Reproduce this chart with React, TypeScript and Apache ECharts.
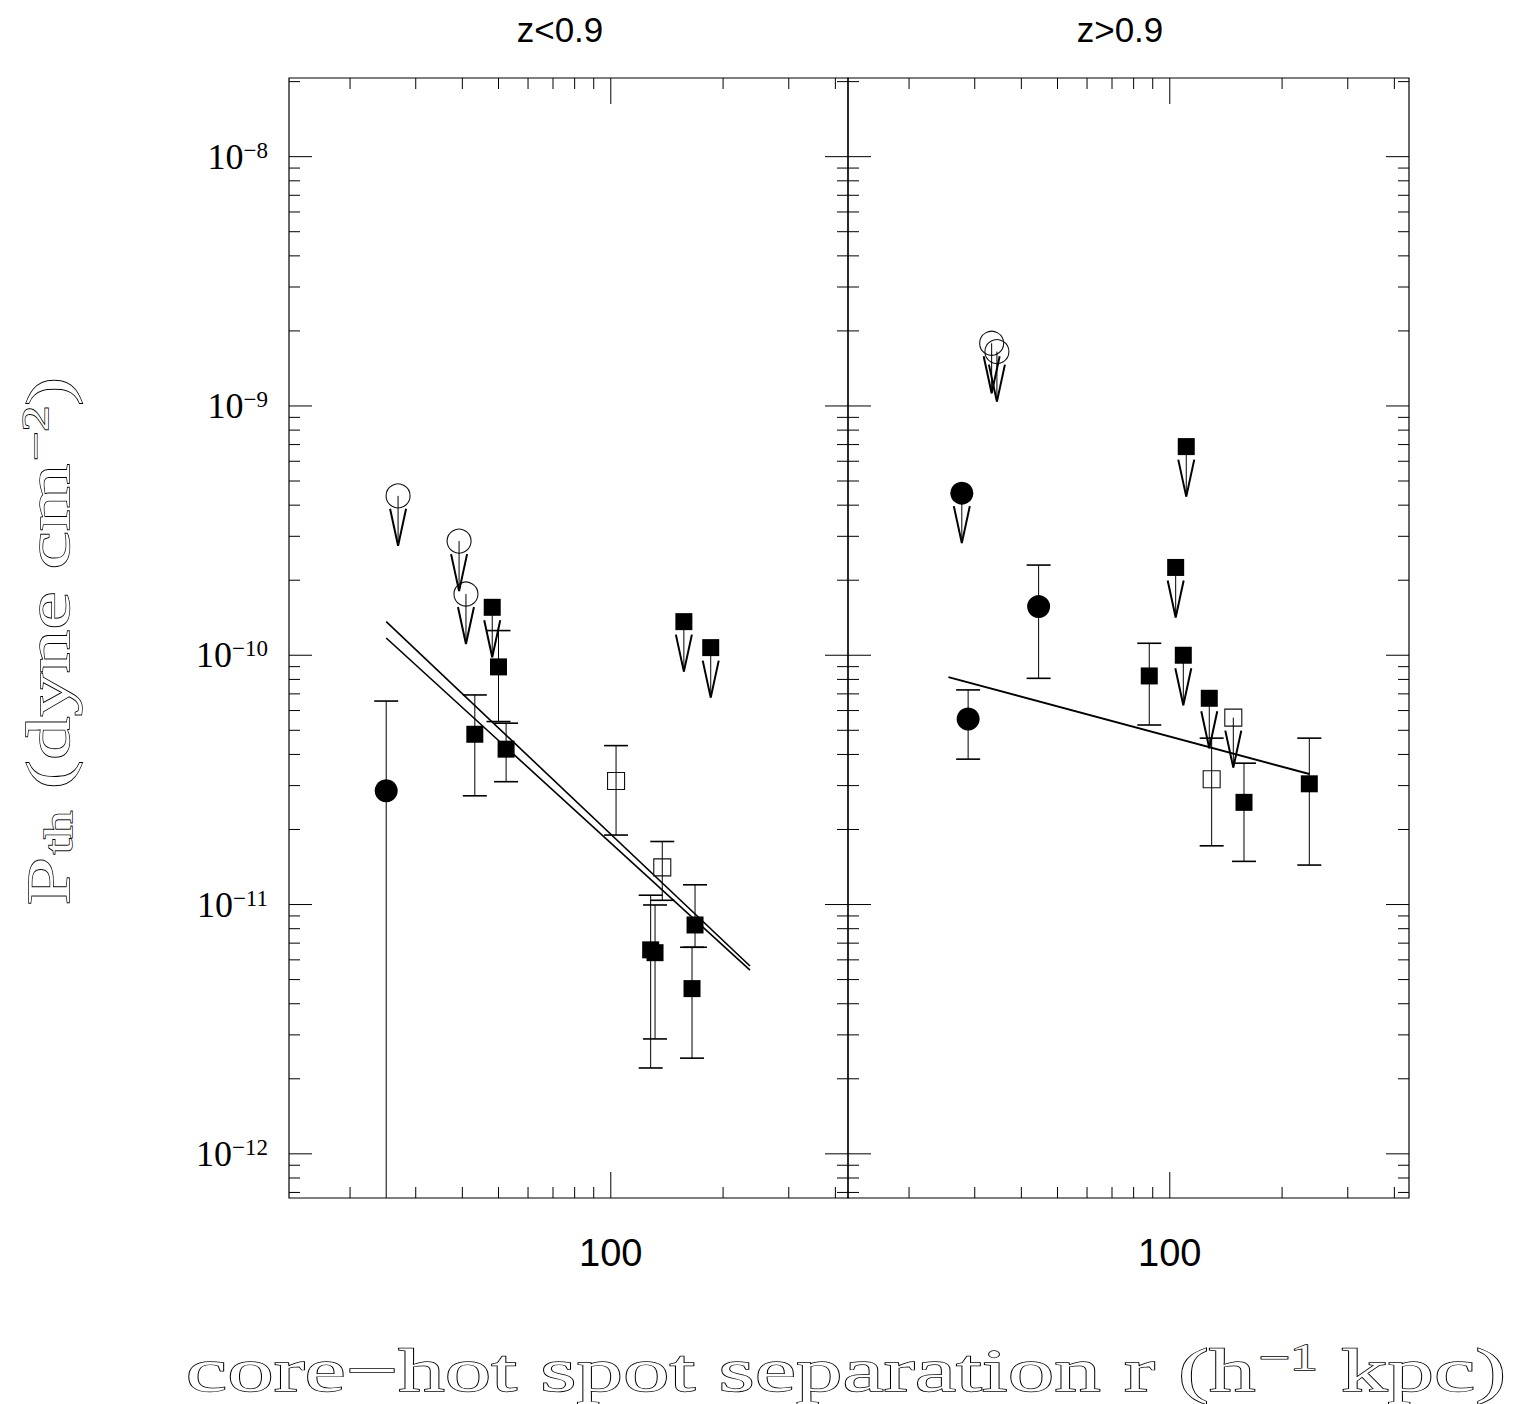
import React, { useEffect, useRef } from 'react';
import * as echarts from 'echarts';

// ---------------- texts ----------------
const panelTitles = ['z<0.9', 'z>0.9'];
const xTickLabelValues = [100];
const xTickLabelTexts = ['100'];
const yTickExponents = [-12, -11, -10, -9, -8];
const xTitleRich = '{m|core\u2212hot spot separation r (h}{s|\u22121}{m| kpc)}';
const yTitleRich = '{m|P}{b|th}{m| (dyne cm}{s|\u22122}{m|)}';

// ---------------- axis ranges ----------------
const xMin = 13.72;
const xMaxLeft = 432.4;
const xMaxRight = 437.8;
const yMin = 6.65e-13;
const yMax = 2.068e-8;
const xTickDecades = [10, 100];
const yTickDecades = [1e-13, 1e-12, 1e-11, 1e-10, 1e-9, 1e-8];

// ---------------- data: [x, y, low, high] ----------------
// z < 0.9 panel
const lowFilledCircles = [[25.0, 2.86e-11, 1e-13, 6.55e-11]];
const lowOpenCircleLimits = [[26.9, 4.36e-10], [39.2, 2.87e-10], [40.9, 1.76e-10]];
const lowFilledSquareLimits = [[48.1, 1.557e-10], [157, 1.364e-10], [185.3, 1.073e-10]];
const lowFilledSquares = [
  [43.2, 4.82e-11, 2.73e-11, 6.93e-11],
  [50.0, 8.98e-11, 5.42e-11, 1.256e-10],
  [52.4, 4.2e-11, 3.11e-11, 5.34e-11],
  [127.9, 6.58e-12, 2.21e-12, 1.09e-11],
  [131.4, 6.41e-12, 2.89e-12, 9.96e-12],
  [168.2, 8.28e-12, 6.74e-12, 1.2e-11],
  [165.1, 4.6e-12, 2.42e-12, 6.74e-12],
];
const lowOpenSquares = [
  [103.3, 3.13e-11, 1.9e-11, 4.34e-11],
  [137.4, 1.41e-11, 1.04e-11, 1.79e-11],
];
const lowFitA = [[25.0, 1.364e-10], [236.1, 5.67e-12]];
const lowFitB = [[25.0, 1.173e-10], [236.1, 5.46e-12]];

// z > 0.9 panel
const highOpenCircleLimits = [[33.3, 1.784e-9], [34.4, 1.652e-9]];
const highFilledCircleLimits = [[27.7, 4.47e-10]];
const highFilledCircles = [
  [44.5, 1.567e-10, 8.08e-11, 2.3e-10],
  [28.8, 5.55e-11, 3.83e-11, 7.26e-11],
];
const highFilledSquareLimits = [[110.7, 6.87e-10], [103.7, 2.25e-10], [108.7, 1.0e-10], [127.6, 6.72e-11]];
const highFilledSquares = [
  [88.1, 8.26e-11, 5.25e-11, 1.117e-10],
  [158.1, 2.57e-11, 1.49e-11, 3.69e-11],
  [236.6, 3.05e-11, 1.44e-11, 4.65e-11],
];
const highOpenSquareLimits = [[148.0, 5.62e-11]];
const highOpenSquares = [[129.5, 3.18e-11, 1.72e-11, 4.65e-11]];
const highFit = [[25.5, 8.17e-11], [236.6, 3.34e-11]];

// ---------------- styling ----------------
const SERIF = "'Liberation Serif', 'DejaVu Serif', serif";
const SANS = "'Liberation Sans Narrow', 'Liberation Sans', Arial, sans-serif";

function errorBars(data: number[][], idx: number) {
  return {
    type: 'custom',
    xAxisIndex: idx,
    yAxisIndex: idx,
    silent: true,
    z: 2,
    data: data.map((d) => [d[0], d[1], d[2], d[3]]),
    encode: { x: 0, y: 1 },
    renderItem: (params: any, api: any) => {
      const x = api.value(0);
      const lo = api.value(2);
      const hi = api.value(3);
      const clipped = lo < yMin;
      const pLo = api.coord([x, clipped ? yMin : lo]);
      const pHi = api.coord([x, hi]);
      const cw = 12;
      const children: any[] = [
        { type: 'line', shape: { x1: pLo[0], y1: pLo[1], x2: pHi[0], y2: pHi[1] }, style: { stroke: '#000', lineWidth: 1 } },
        { type: 'line', shape: { x1: pHi[0] - cw, y1: pHi[1], x2: pHi[0] + cw, y2: pHi[1] }, style: { stroke: '#000', lineWidth: 1.6 } },
      ];
      if (!clipped) {
        children.push({ type: 'line', shape: { x1: pLo[0] - cw, y1: pLo[1], x2: pLo[0] + cw, y2: pLo[1] }, style: { stroke: '#000', lineWidth: 1.6 } });
      }
      return { type: 'group', children };
    },
  };
}

function limitArrows(data: number[][], idx: number) {
  return {
    type: 'custom',
    xAxisIndex: idx,
    yAxisIndex: idx,
    silent: true,
    z: 5,
    data: data.map((d) => [d[0], d[1]]),
    encode: { x: 0, y: 1 },
    renderItem: (params: any, api: any) => {
      const p = api.coord([api.value(0), api.value(1)]);
      const L = 50;
      const hy = 13;
      const hw = 8;
      return {
        type: 'group',
        children: [
          { type: 'line', shape: { x1: p[0], y1: p[1], x2: p[0], y2: p[1] + L }, style: { stroke: '#000', lineWidth: 1 } },
          {
            type: 'polyline',
            shape: { points: [[p[0] - hw, p[1] + hy], [p[0], p[1] + L], [p[0] + hw, p[1] + hy]] },
            style: { stroke: '#000', fill: 'none', lineWidth: 2 },
          },
        ],
      };
    },
  };
}

function ticksSeries(idx: number, xMax: number) {
  return {
    type: 'custom',
    xAxisIndex: idx,
    yAxisIndex: idx,
    silent: true,
    z: 1,
    data: [[xMin, yMin]],
    encode: { x: 0, y: 1 },
    renderItem: (params: any, api: any) => {
      const bl = api.coord([xMin, yMin]);
      const tr = api.coord([xMax, yMax]);
      const children: any[] = [];
      const st = { stroke: '#000', lineWidth: 1 };
      xTickDecades.forEach((d) => {
        for (let k = 1; k <= 9; k++) {
          const v = d * k;
          if (v < xMin || v > xMax) continue;
          const len = k === 1 ? 26 : 11;
          const px = api.coord([v, yMin])[0];
          children.push({ type: 'line', shape: { x1: px, y1: bl[1], x2: px, y2: bl[1] - len }, style: st });
          children.push({ type: 'line', shape: { x1: px, y1: tr[1], x2: px, y2: tr[1] + len }, style: st });
        }
      });
      yTickDecades.forEach((d) => {
        for (let k = 1; k <= 9; k++) {
          const v = d * k;
          if (v < yMin || v > yMax) continue;
          const len = k === 1 ? 23 : 11;
          const py = api.coord([xMin, v])[1];
          children.push({ type: 'line', shape: { x1: bl[0], y1: py, x2: bl[0] + len, y2: py }, style: st });
          children.push({ type: 'line', shape: { x1: tr[0], y1: py, x2: tr[0] - len, y2: py }, style: st });
        }
      });
      return { type: 'group', children };
    },
  };
}

function markers(data: number[][], idx: number, symbol: string, size: number, filled: boolean) {
  return {
    type: 'scatter',
    xAxisIndex: idx,
    yAxisIndex: idx,
    silent: true,
    z: 4,
    symbol,
    symbolSize: size,
    data: data.map((d) => [d[0], d[1]]),
    itemStyle: filled
      ? { color: '#000', borderWidth: 0, opacity: 1 }
      : { color: 'rgba(0,0,0,0)', borderColor: '#111', borderWidth: 1.1, opacity: 1 },
  };
}

function fitLine(data: number[][], idx: number, width: number) {
  return {
    type: 'line',
    xAxisIndex: idx,
    yAxisIndex: idx,
    silent: true,
    z: 3,
    data: data.map((d) => [d[0], d[1]]),
    showSymbol: false,
    symbol: 'none',
    lineStyle: { color: '#000', width },
  };
}

function isDecade(v: number) {
  const e = Math.log10(v);
  return Math.abs(e - Math.round(e)) < 1e-6;
}

function makeXAxis(idx: number, xMax: number) {
  return {
    type: 'log',
    logBase: 10,
    gridIndex: idx,
    min: xMin,
    max: xMax,
    axisLine: { show: false },
    axisTick: { show: false },
    minorTick: { show: false },
    splitLine: { show: false },
    axisLabel: {
      show: true,
      margin: 36,
      fontFamily: SANS,
      fontSize: 38,
      color: '#000',
      formatter: (v: number) => {
        const i = xTickLabelValues.findIndex((t) => Math.abs(Math.log10(v) - Math.log10(t)) < 1e-6);
        return i >= 0 ? xTickLabelTexts[i] : '';
      },
    },
  };
}

function makeYAxis(idx: number, showLabels: boolean) {
  return {
    type: 'log',
    logBase: 10,
    gridIndex: idx,
    min: yMin,
    max: yMax,
    axisLine: { show: false },
    axisTick: { show: false },
    minorTick: { show: false },
    splitLine: { show: false },
    axisLabel: {
      show: showLabels,
      margin: 21,
      formatter: (v: number) => {
        if (!isDecade(v)) return '';
        const e = Math.round(Math.log10(v));
        if (!yTickExponents.includes(e)) return '';
        return '{b|10}{s|\u2212' + String(-e) + '}';
      },
      rich: {
        b: { fontFamily: SERIF, fontSize: 36, lineHeight: 36, color: '#000', verticalAlign: 'middle' },
        s: { fontFamily: SERIF, fontSize: 23, lineHeight: 23, color: '#000', verticalAlign: 'top' },
      },
    },
  };
}

const titleRich = {
  m: { fontFamily: SERIF, fontSize: 62, lineHeight: 62, verticalAlign: 'top' },
  b: { fontFamily: SERIF, fontSize: 40, lineHeight: 40, verticalAlign: 'bottom', padding: [36, 0, 0, 2] },
  s: { fontFamily: SERIF, fontSize: 37, lineHeight: 37, verticalAlign: 'top', padding: [0, 0, 0, 2] },
};

const option: any = {
  animation: false,
  backgroundColor: '#fff',
  grid: [
    { left: 289, top: 78, width: 559, height: 1120, show: true, borderColor: '#000', borderWidth: 1.2, backgroundColor: 'rgba(0,0,0,0)' },
    { left: 848, top: 78, width: 561, height: 1120, show: true, borderColor: '#000', borderWidth: 1.2, backgroundColor: 'rgba(0,0,0,0)' },
  ],
  xAxis: [makeXAxis(0, xMaxLeft), makeXAxis(1, xMaxRight)],
  yAxis: [makeYAxis(0, true), makeYAxis(1, false)],
  graphic: [
    {
      type: 'text', x: 560, y: 29, silent: true,
      style: { text: panelTitles[0], fontFamily: SANS, fontSize: 35, fill: '#000', align: 'center', verticalAlign: 'middle', textAlign: 'center', textVerticalAlign: 'middle' },
    },
    {
      type: 'text', x: 1120, y: 29, silent: true,
      style: { text: panelTitles[1], fontFamily: SANS, fontSize: 35, fill: '#000', align: 'center', verticalAlign: 'middle', textAlign: 'center', textVerticalAlign: 'middle' },
    },
    {
      type: 'text', x: 846, y: 1370, scaleX: 1.5, scaleY: 1, silent: true,
      style: {
        text: xTitleRich, rich: titleRich, fontFamily: SERIF, fontSize: 62,
        fill: '#fff', stroke: '#000', lineWidth: 1.4,
        align: 'center', verticalAlign: 'middle', textAlign: 'center', textVerticalAlign: 'middle',
      },
    },
    {
      type: 'text', x: 48, y: 641, rotation: Math.PI / 2, scaleX: 1.4, scaleY: 1, silent: true,
      style: {
        text: yTitleRich, rich: titleRich, fontFamily: SERIF, fontSize: 62,
        fill: '#fff', stroke: '#000', lineWidth: 1.4,
        align: 'center', verticalAlign: 'middle', textAlign: 'center', textVerticalAlign: 'middle',
      },
    },
  ],
  series: [
    ticksSeries(0, xMaxLeft),
    ticksSeries(1, xMaxRight),
    // left panel
    errorBars(lowFilledCircles, 0),
    errorBars(lowFilledSquares, 0),
    errorBars(lowOpenSquares, 0),
    fitLine(lowFitA, 0, 1.6),
    fitLine(lowFitB, 0, 1.6),
    markers(lowFilledCircles, 0, 'circle', 23, true),
    markers(lowOpenCircleLimits, 0, 'circle', 24, false),
    markers(lowFilledSquareLimits, 0, 'rect', 17, true),
    markers(lowFilledSquares, 0, 'rect', 17, true),
    markers(lowOpenSquares, 0, 'rect', 17, false),
    limitArrows(lowOpenCircleLimits, 0),
    limitArrows(lowFilledSquareLimits, 0),
    // right panel
    errorBars(highFilledCircles, 1),
    errorBars(highFilledSquares, 1),
    errorBars(highOpenSquares, 1),
    fitLine(highFit, 1, 2),
    markers(highOpenCircleLimits, 1, 'circle', 24, false),
    markers(highFilledCircleLimits, 1, 'circle', 23, true),
    markers(highFilledCircles, 1, 'circle', 23, true),
    markers(highFilledSquareLimits, 1, 'rect', 17, true),
    markers(highFilledSquares, 1, 'rect', 17, true),
    markers(highOpenSquareLimits, 1, 'rect', 17, false),
    markers(highOpenSquares, 1, 'rect', 17, false),
    limitArrows(highOpenCircleLimits, 1),
    limitArrows(highFilledCircleLimits, 1),
    limitArrows(highFilledSquareLimits, 1),
    limitArrows(highOpenSquareLimits, 1),
  ],
};

export default function App() {
  const ref = useRef<HTMLDivElement>(null);
  useEffect(() => {
    document.body.style.margin = '0';
    const chart = echarts.init(ref.current as HTMLDivElement, null, { renderer: 'svg', width: 1515, height: 1404 });
    chart.setOption(option);
    return () => chart.dispose();
  }, []);
  return <div ref={ref} style={{ position: 'absolute', left: 0, top: 0, width: 1515, height: 1404, background: '#fff' }} />;
}
